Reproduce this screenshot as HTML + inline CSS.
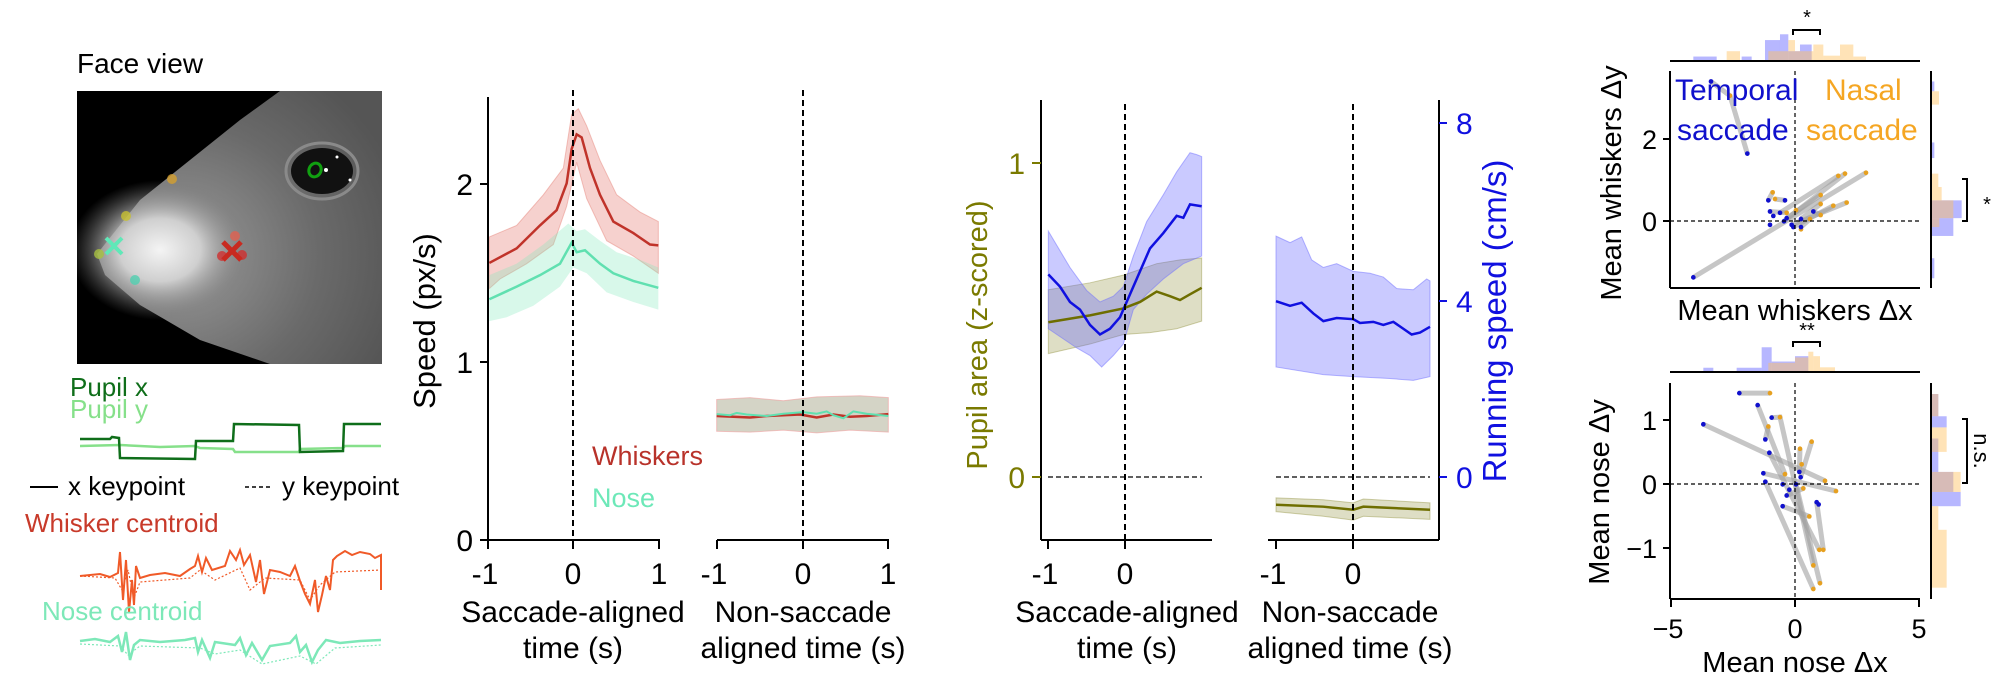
<!DOCTYPE html>
<html><head><meta charset="utf-8"><style>
html,body{margin:0;padding:0;background:#fff;}
svg{display:block;font-family:"Liberation Sans",Arial,sans-serif;}
</style></head><body>
<svg width="2000" height="698" viewBox="0 0 2000 698" xmlns="http://www.w3.org/2000/svg">
<defs>
<radialGradient id="snout" cx="0.5" cy="0.5" r="0.5">
<stop offset="0" stop-color="#f4f4f4"/><stop offset="0.45" stop-color="#cfcfcf"/><stop offset="1" stop-color="#777" stop-opacity="0"/>
</radialGradient>
<radialGradient id="head" cx="0.3" cy="0.6" r="0.8">
<stop offset="0" stop-color="#9a9a9a"/><stop offset="0.6" stop-color="#6a6a6a"/><stop offset="1" stop-color="#555"/>
</radialGradient>
<clipPath id="imgclip"><rect x="77" y="91" width="305" height="273"/></clipPath>
</defs>

<!-- ================= LEFT PANEL ================= -->
<text x="77" y="73" font-size="28">Face view</text>
<g clip-path="url(#imgclip)">
<rect x="77" y="91" width="305" height="273" fill="#000"/>
<polygon points="97,254 140,200 190,160 240,120 280,91 382,91 382,364 270,364 200,340 140,305 105,275" fill="url(#head)"/>
<ellipse cx="160" cy="250" rx="90" ry="70" fill="url(#snout)"/>
<ellipse cx="322" cy="171" rx="31" ry="23" fill="#111"/>
<ellipse cx="322" cy="171" rx="36" ry="28" fill="none" stroke="#8a8a8a" stroke-width="3"/>
<ellipse cx="315" cy="170" rx="6" ry="7" fill="none" stroke="#11a011" stroke-width="3" transform="rotate(25 315 170)"/>
<circle cx="326" cy="170" r="2" fill="#fff"/><circle cx="337" cy="157" r="1.5" fill="#fff"/><circle cx="350" cy="180" r="1.5" fill="#fff"/>
<circle cx="172" cy="179" r="5" fill="#d4a030" opacity="0.8"/>
<circle cx="126" cy="216" r="5" fill="#c8c030" opacity="0.8"/>
<circle cx="99" cy="254" r="5" fill="#a8c040" opacity="0.8"/>
<circle cx="135" cy="280" r="5" fill="#50d0b0" opacity="0.8"/>
<circle cx="235" cy="236" r="5" fill="#e06050" opacity="0.8"/>
<circle cx="222" cy="256" r="5" fill="#d03030" opacity="0.8"/>
<circle cx="242" cy="255" r="5" fill="#d03030" opacity="0.8"/>
<path d="M106,238 L122,254 M122,238 L106,254" stroke="#60e8b8" stroke-width="4"/>
<path d="M223,242 L241,260 M241,242 L223,260" stroke="#c82a20" stroke-width="5"/>
</g>
<text x="70" y="396" font-size="26" fill="#0f6e1a">Pupil x</text>
<text x="70" y="418" font-size="26" fill="#86e08a">Pupil y</text>
<path d="M80,446 L120,445 L160,447 L195,446 L200,448 L233,449 L235,452 L299,452 L300,449 L343,448 L345,446 L381,446" fill="none" stroke="#86e08a" stroke-width="2.5"/>
<path d="M80,439 L110,439 L112,437 L119,438 L120,458 L195,459 L196,441 L233,441 L234,424 L299,425 L300,452 L343,451 L344,424 L381,424" fill="none" stroke="#0f6e1a" stroke-width="2.5"/>
<line x1="30" y1="487" x2="58" y2="487" stroke="#000" stroke-width="2"/>
<text x="68" y="495" font-size="26">x keypoint</text>
<line x1="245" y1="487" x2="273" y2="487" stroke="#000" stroke-width="1.5" stroke-dasharray="4,3"/>
<text x="282" y="495" font-size="26">y keypoint</text>
<text x="25" y="532" font-size="26" fill="#c83a2a">Whisker centroid</text>
<path d="M80,576 L100,574 L110,577 L118,573 L120,552 L123,600 L126,560 L129,612 L132,580 L134,605 L136,566 L140,578 L150,575 L165,573 L180,576 L190,569 L195,566 L198,556 L202,572 L206,558 L212,570 L225,566 L230,551 L236,560 L240,550 L244,565 L250,555 L256,582 L260,560 L264,594 L270,570 L280,572 L290,576 L295,566 L300,581 L305,594 L310,604 L315,580 L318,612 L322,595 L326,576 L330,590 L333,560 L337,556 L345,551 L352,555 L360,552 L370,554 L375,558 L381,555 L381,590" fill="none" stroke="#f05a28" stroke-width="2"/>
<path d="M80,576 L115,578 L122,590 L128,570 L134,598 L140,582 L190,578 L200,570 L215,580 L240,568 L250,590 L265,578 L300,580 L310,600 L320,585 L335,572 L381,570" fill="none" stroke="#f05a28" stroke-width="1.2" stroke-dasharray="2,2"/>
<text x="42" y="620" font-size="26" fill="#7de8b8">Nose centroid</text>
<path d="M80,641 L95,639 L110,642 L118,636 L122,652 L126,632 L130,660 L134,645 L140,640 L160,642 L185,640 L195,638 L198,652 L202,640 L210,658 L215,642 L235,645 L240,638 L246,655 L252,643 L262,660 L270,646 L290,643 L296,636 L300,652 L306,645 L312,662 L318,650 L326,640 L340,643 L360,641 L381,640" fill="none" stroke="#7de8b8" stroke-width="2.5"/>
<path d="M80,644 L120,646 L128,655 L140,646 L200,648 L215,654 L240,650 L262,664 L300,656 L316,664 L335,648 L381,645" fill="none" stroke="#7de8b8" stroke-width="1.2" stroke-dasharray="2,2"/>

<!-- ================= SPEED PANEL ================= -->
<g transform="translate(400,80) scale(0.33333,0.38268)">
<path d="M268,410 L350,380 L430,300 L490,230 L515,90 L535,75 L560,120 L600,210 L650,300 L720,345 L775,370 L775,505 L700,460 L620,420 L560,310 L530,215 L500,330 L460,430 L380,480 L300,520 L268,545 Z" fill="#e05a50" fill-opacity="0.28" stroke="#e88a80" stroke-opacity="0.5" vector-effect="non-scaling-stroke"/>
<path d="M268,510 L350,480 L430,430 L505,375 L530,395 L555,390 L600,420 L650,450 L720,470 L775,490 L775,600 L700,580 L620,555 L560,505 L520,490 L480,540 L400,590 L320,620 L268,630 Z" fill="#7de8b8" fill-opacity="0.3" vector-effect="non-scaling-stroke"/>
<path d="M268,478 L350,440 L420,380 L470,340 L500,270 L515,180 L530,142 L545,150 L570,230 L600,300 L640,370 L700,400 L750,430 L775,432" fill="none" stroke="#c0332a" stroke-width="2.5" vector-effect="non-scaling-stroke"/>
<path d="M268,573 L350,540 L420,510 L480,480 L515,425 L530,450 L555,445 L600,480 L640,505 L700,525 L775,543" fill="none" stroke="#60e0b0" stroke-width="2.5" vector-effect="non-scaling-stroke"/>
<path d="M950,835 L1050,830 L1150,838 L1250,828 L1380,825 L1465,830 L1465,920 L1350,915 L1250,922 L1150,915 L1050,920 L950,918 Z" fill="#a0a080" fill-opacity="0.45" stroke="#f0a0a0" stroke-opacity="0.6" vector-effect="non-scaling-stroke"/>
<path d="M950,878 L1000,880 L1050,882 L1100,878 L1150,876 L1200,874 L1250,882 L1300,874 L1350,880 L1400,878 L1465,873" fill="none" stroke="#c0332a" stroke-width="2.5" vector-effect="non-scaling-stroke"/>
<path d="M950,873 L990,876 L1010,870 L1040,874 L1100,878 L1150,872 L1210,868 L1250,872 L1280,866 L1300,876 L1330,884 L1360,866 L1400,872 L1465,878" fill="none" stroke="#60e0b0" stroke-width="2" vector-effect="non-scaling-stroke"/>
</g>
<g stroke="#000" stroke-width="2" fill="none">
<line x1="488" y1="97" x2="488" y2="540"/>
<line x1="488" y1="540" x2="660" y2="540"/>
<line x1="717" y1="540" x2="889" y2="540"/>
<path d="M480,184 H488 M480,362 H488 M480,540 H488 M488,540 V549 M573,540 V549 M659,540 V549 M717,540 V549 M803,540 V549 M888,540 V549"/>
</g>
<line x1="573" y1="90" x2="573" y2="540" stroke="#000" stroke-width="2" stroke-dasharray="6,4"/>
<line x1="803" y1="90" x2="803" y2="540" stroke="#000" stroke-width="2" stroke-dasharray="6,4"/>
<g font-size="30" text-anchor="end"><text x="473" y="195">2</text><text x="473" y="373">1</text><text x="473" y="551">0</text></g>
<g font-size="30" text-anchor="middle">
<text x="485" y="584">-1</text><text x="573" y="584">0</text><text x="659" y="584">1</text>
<text x="714" y="584">-1</text><text x="803" y="584">0</text><text x="888" y="584">1</text>
<text x="573" y="622">Saccade-aligned</text><text x="573" y="658">time (s)</text>
<text x="803" y="622">Non-saccade</text><text x="803" y="658">aligned time (s)</text>
</g>
<text transform="translate(435,321) rotate(-90)" font-size="31" text-anchor="middle">Speed (px/s)</text>
<text x="592" y="465" font-size="27" fill="#b8322a">Whiskers</text>
<text x="592" y="507" font-size="27" fill="#6de8b8">Nose</text>

<!-- ================= PUPIL / RUNNING PANEL ================= -->
<g transform="translate(990,80) scale(0.33333,0.38268)">
<path d="M175,548 L300,530 L400,510 L500,480 L570,470 L635,465 L635,630 L560,650 L480,660 L400,665 L300,690 L175,715 Z" fill="#8a8a30" fill-opacity="0.28" stroke="#8a8a30" stroke-opacity="0.4" vector-effect="non-scaling-stroke"/>
<path d="M175,395 L240,490 L290,550 L330,580 L370,565 L400,540 L430,460 L470,370 L520,300 L560,240 L600,190 L620,195 L635,200 L635,460 L580,480 L520,520 L470,560 L430,600 L400,690 L370,720 L335,750 L300,720 L260,700 L175,650 Z" fill="#5a5aff" fill-opacity="0.32" stroke="#7070ff" stroke-opacity="0.5" vector-effect="non-scaling-stroke"/>
<path d="M175,633 L300,615 L400,597 L450,580 L500,553 L540,565 L570,575 L600,560 L635,543" fill="none" stroke="#6e6e00" stroke-width="2.5" vector-effect="non-scaling-stroke"/>
<path d="M175,508 L210,540 L240,580 L270,600 L300,640 L330,665 L360,650 L390,620 L405,590 L440,520 L480,440 L520,400 L560,355 L580,360 L600,325 L635,330" fill="none" stroke="#1010e0" stroke-width="2.5" vector-effect="non-scaling-stroke"/>
<path d="M858,408 L900,425 L935,410 L965,470 L1000,490 L1040,480 L1090,500 L1140,505 L1180,515 L1220,545 L1270,548 L1310,520 L1320,525 L1320,775 L1270,785 L1200,780 L1090,775 L1000,770 L858,750 Z" fill="#5a5aff" fill-opacity="0.32" stroke="#7070ff" stroke-opacity="0.5" vector-effect="non-scaling-stroke"/>
<path d="M858,578 L900,590 L935,582 L970,610 L1000,630 L1040,622 L1090,625 L1110,635 L1150,632 L1180,640 L1210,632 L1240,650 L1265,665 L1290,660 L1320,645" fill="none" stroke="#1010e0" stroke-width="2.5" vector-effect="non-scaling-stroke"/>
<path d="M858,1092 L1000,1097 L1090,1105 L1120,1095 L1320,1105 L1320,1148 L1120,1140 L1090,1150 L1000,1140 L858,1128 Z" fill="#8a8a30" fill-opacity="0.28" stroke="#8a8a30" stroke-opacity="0.4" vector-effect="non-scaling-stroke"/>
<path d="M858,1110 L1000,1115 L1090,1123 L1120,1115 L1320,1123" fill="none" stroke="#6e6e00" stroke-width="2.5" vector-effect="non-scaling-stroke"/>
</g>
<g stroke="#000" stroke-width="2" fill="none">
<line x1="1041" y1="100" x2="1041" y2="540"/>
<line x1="1041" y1="540" x2="1212" y2="540"/>
<line x1="1268" y1="540" x2="1439" y2="540"/>
<line x1="1439" y1="100" x2="1439" y2="540"/>
<path d="M1048,540 V549 M1125,540 V549 M1276,540 V549 M1353,540 V549"/>
</g>
<path d="M1032,163 H1041 M1032,477 H1041" stroke="#7a7a00" stroke-width="2"/>
<path d="M1439,123 H1447 M1439,301 H1447 M1439,477 H1447" stroke="#1010e0" stroke-width="2"/>
<line x1="1125" y1="104" x2="1125" y2="540" stroke="#000" stroke-width="2" stroke-dasharray="6,4"/>
<line x1="1353" y1="104" x2="1353" y2="540" stroke="#000" stroke-width="2" stroke-dasharray="6,4"/>
<line x1="1048" y1="477" x2="1202" y2="477" stroke="#000" stroke-width="1.2" stroke-dasharray="5,3"/>
<line x1="1276" y1="477" x2="1430" y2="477" stroke="#000" stroke-width="1.2" stroke-dasharray="5,3"/>
<g font-size="30" fill="#7a7a00" text-anchor="end"><text x="1025" y="174">1</text><text x="1025" y="488">0</text></g>
<g font-size="30" fill="#1010e0"><text x="1456" y="134">8</text><text x="1456" y="312">4</text><text x="1456" y="488">0</text></g>
<g font-size="30" text-anchor="middle">
<text x="1045" y="584">-1</text><text x="1125" y="584">0</text>
<text x="1273" y="584">-1</text><text x="1353" y="584">0</text>
<text x="1127" y="622">Saccade-aligned</text><text x="1127" y="658">time (s)</text>
<text x="1350" y="622">Non-saccade</text><text x="1350" y="658">aligned time (s)</text>
</g>
<text transform="translate(987,335) rotate(-90)" font-size="29" fill="#7a7a00" text-anchor="middle">Pupil area (z-scored)</text>
<text transform="translate(1506,321) rotate(-90)" font-size="33" fill="#1010e0" text-anchor="middle">Running speed (cm/s)</text>

<!-- ================= SCATTER PANEL ================= -->
<g transform="translate(1580,0) scale(0.33333,0.44521)">
<g fill="#7070ff" fill-opacity="0.5">
<rect x="340" y="127" width="70" height="11"/><rect x="485" y="127" width="30" height="11"/>
<rect x="555" y="90" width="45" height="48"/><rect x="600" y="77" width="25" height="61"/>
<rect x="625" y="115" width="35" height="23"/><rect x="660" y="100" width="35" height="38"/>
</g>
<g fill="#ffc060" fill-opacity="0.45">
<rect x="440" y="115" width="40" height="23"/><rect x="565" y="115" width="60" height="23"/>
<rect x="625" y="90" width="20" height="48"/><rect x="645" y="115" width="55" height="23"/>
<rect x="700" y="100" width="30" height="38"/><rect x="730" y="125" width="50" height="13"/>
<rect x="780" y="100" width="40" height="38"/><rect x="820" y="127" width="38" height="11"/>
</g>
<g fill="#7070ff" fill-opacity="0.5">
<rect x="1053" y="183" width="10" height="22"/><rect x="1053" y="320" width="10" height="35"/>
<rect x="1053" y="450" width="92" height="40"/><rect x="1053" y="490" width="67" height="40"/>
<rect x="1053" y="580" width="10" height="45"/>
</g>
<g fill="#ffc060" fill-opacity="0.45">
<rect x="1053" y="205" width="24" height="30"/><rect x="1053" y="390" width="22" height="30"/>
<rect x="1053" y="420" width="32" height="30"/><rect x="1053" y="450" width="67" height="40"/>
<rect x="1053" y="490" width="25" height="20"/>
</g>
<g stroke="#a0a0a0" stroke-opacity="0.6" stroke-width="5" fill="none">
<path d="M393,183 L450,215 L502,345" vector-effect="non-scaling-stroke"/>
<path d="M340,623 L858,388" vector-effect="non-scaling-stroke"/>
<path d="M600,478 L775,395" vector-effect="non-scaling-stroke"/>
<path d="M612,497 L795,390" vector-effect="non-scaling-stroke"/>
<path d="M620,490 L722,438" vector-effect="non-scaling-stroke"/>
<path d="M635,505 L800,455" vector-effect="non-scaling-stroke"/>
<path d="M640,510 L760,462" vector-effect="non-scaling-stroke"/>
<path d="M663,492 L722,458" vector-effect="non-scaling-stroke"/>
<path d="M565,450 L578,432 M615,450 L585,447 M570,475 L620,478 M700,475 L722,483 M663,510 L690,492" vector-effect="non-scaling-stroke"/>
</g>
<g fill="#e6a020">
<ellipse cx="450" cy="215" rx="7" ry="5.3"/><ellipse cx="578" cy="432" rx="7" ry="5.3"/><ellipse cx="585" cy="447" rx="7" ry="5.3"/>
<ellipse cx="620" cy="478" rx="7" ry="5.3"/><ellipse cx="648" cy="472" rx="7" ry="5.3"/><ellipse cx="722" cy="438" rx="7" ry="5.3"/>
<ellipse cx="722" cy="458" rx="7" ry="5.3"/><ellipse cx="760" cy="462" rx="7" ry="5.3"/><ellipse cx="800" cy="455" rx="7" ry="5.3"/>
<ellipse cx="775" cy="395" rx="7" ry="5.3"/><ellipse cx="795" cy="390" rx="7" ry="5.3"/><ellipse cx="858" cy="388" rx="7" ry="5.3"/>
<ellipse cx="690" cy="492" rx="7" ry="5.3"/><ellipse cx="722" cy="483" rx="7" ry="5.3"/><ellipse cx="663" cy="515" rx="7" ry="5.3"/>
</g>
<g fill="#1010cc">
<ellipse cx="393" cy="183" rx="7" ry="5.3"/><ellipse cx="502" cy="345" rx="7" ry="5.3"/><ellipse cx="340" cy="623" rx="7" ry="5.3"/>
<ellipse cx="565" cy="450" rx="7" ry="5.3"/><ellipse cx="615" cy="450" rx="7" ry="5.3"/><ellipse cx="570" cy="475" rx="7" ry="5.3"/>
<ellipse cx="580" cy="485" rx="7" ry="5.3"/><ellipse cx="600" cy="478" rx="7" ry="5.3"/><ellipse cx="620" cy="490" rx="7" ry="5.3"/>
<ellipse cx="612" cy="497" rx="7" ry="5.3"/><ellipse cx="570" cy="505" rx="7" ry="5.3"/><ellipse cx="635" cy="505" rx="7" ry="5.3"/>
<ellipse cx="640" cy="510" rx="7" ry="5.3"/><ellipse cx="663" cy="492" rx="7" ry="5.3"/><ellipse cx="663" cy="510" rx="7" ry="5.3"/>
<ellipse cx="700" cy="475" rx="7" ry="5.3"/>
</g>
<g fill="#7070ff" fill-opacity="0.5">
<rect x="370" y="826" width="30" height="10"/><rect x="470" y="826" width="75" height="10"/>
<rect x="545" y="780" width="30" height="56"/><rect x="575" y="812" width="70" height="24"/>
<rect x="645" y="800" width="40" height="36"/>
</g>
<g fill="#ffc060" fill-opacity="0.45">
<rect x="565" y="815" width="80" height="21"/><rect x="645" y="803" width="40" height="33"/>
<rect x="685" y="790" width="15" height="46"/><rect x="700" y="800" width="20" height="36"/>
<rect x="720" y="825" width="45" height="11"/>
</g>
<g fill="#7070ff" fill-opacity="0.5">
<rect x="1053" y="885" width="22" height="50"/><rect x="1053" y="935" width="47" height="25"/>
<rect x="1053" y="985" width="22" height="75"/><rect x="1053" y="1060" width="67" height="45"/>
<rect x="1053" y="1105" width="89" height="32"/>
</g>
<g fill="#ffc060" fill-opacity="0.45">
<rect x="1053" y="885" width="22" height="50"/><rect x="1053" y="960" width="47" height="55"/>
<rect x="1053" y="1060" width="89" height="45"/><rect x="1053" y="1137" width="22" height="53"/>
<rect x="1053" y="1190" width="47" height="130"/>
</g>
<g stroke="#a0a0a0" stroke-opacity="0.6" stroke-width="5" fill="none">
<path d="M478,883 L570,883" vector-effect="non-scaling-stroke"/>
<path d="M533,910 L615,1065" vector-effect="non-scaling-stroke"/>
<path d="M575,938 L600,937 L700,1270" vector-effect="non-scaling-stroke"/>
<path d="M370,953 L735,1080" vector-effect="non-scaling-stroke"/>
<path d="M556,987 L565,958" vector-effect="non-scaling-stroke"/>
<path d="M568,1017 L718,1235" vector-effect="non-scaling-stroke"/>
<path d="M550,1063 L768,1103" vector-effect="non-scaling-stroke"/>
<path d="M556,1082 L700,1323" vector-effect="non-scaling-stroke"/>
<path d="M608,1137 L688,1160" vector-effect="non-scaling-stroke"/>
<path d="M658,1060 L660,1008" vector-effect="non-scaling-stroke"/>
<path d="M662,1072 L695,992" vector-effect="non-scaling-stroke"/>
<path d="M648,1088 L720,1310" vector-effect="non-scaling-stroke"/>
<path d="M710,1128 L730,1235" vector-effect="non-scaling-stroke"/>
<path d="M620,1113 L670,1097" vector-effect="non-scaling-stroke"/>
</g>
<g fill="#e6a020">
<ellipse cx="570" cy="883" rx="7" ry="5.3"/><ellipse cx="600" cy="937" rx="7" ry="5.3"/><ellipse cx="565" cy="958" rx="7" ry="5.3"/>
<ellipse cx="695" cy="992" rx="7" ry="5.3"/><ellipse cx="660" cy="1008" rx="7" ry="5.3"/><ellipse cx="665" cy="1043" rx="7" ry="5.3"/>
<ellipse cx="615" cy="1065" rx="7" ry="5.3"/><ellipse cx="735" cy="1080" rx="7" ry="5.3"/><ellipse cx="768" cy="1103" rx="7" ry="5.3"/>
<ellipse cx="670" cy="1097" rx="7" ry="5.3"/><ellipse cx="688" cy="1160" rx="7" ry="5.3"/><ellipse cx="718" cy="1235" rx="7" ry="5.3"/>
<ellipse cx="730" cy="1235" rx="7" ry="5.3"/><ellipse cx="700" cy="1270" rx="7" ry="5.3"/><ellipse cx="720" cy="1310" rx="7" ry="5.3"/>
<ellipse cx="700" cy="1323" rx="7" ry="5.3"/>
</g>
<g fill="#1010cc">
<ellipse cx="478" cy="883" rx="7" ry="5.3"/><ellipse cx="533" cy="910" rx="7" ry="5.3"/><ellipse cx="575" cy="938" rx="7" ry="5.3"/>
<ellipse cx="370" cy="953" rx="7" ry="5.3"/><ellipse cx="556" cy="987" rx="7" ry="5.3"/><ellipse cx="568" cy="1017" rx="7" ry="5.3"/>
<ellipse cx="550" cy="1063" rx="7" ry="5.3"/><ellipse cx="556" cy="1082" rx="7" ry="5.3"/><ellipse cx="608" cy="1088" rx="7" ry="5.3"/>
<ellipse cx="628" cy="1100" rx="7" ry="5.3"/><ellipse cx="620" cy="1113" rx="7" ry="5.3"/><ellipse cx="608" cy="1137" rx="7" ry="5.3"/>
<ellipse cx="648" cy="1088" rx="7" ry="5.3"/><ellipse cx="658" cy="1060" rx="7" ry="5.3"/><ellipse cx="662" cy="1072" rx="7" ry="5.3"/>
<ellipse cx="710" cy="1128" rx="7" ry="5.3"/><ellipse cx="716" cy="1133" rx="7" ry="5.3"/>
</g>
</g>
<g stroke="#000" stroke-width="2" fill="none">
<line x1="1670" y1="61" x2="1920" y2="61"/>
<line x1="1670" y1="71" x2="1670" y2="288"/>
<line x1="1670" y1="288" x2="1920" y2="288"/>
<line x1="1931" y1="71" x2="1931" y2="288"/>
<path d="M1663,139 H1670 M1663,221 H1670"/>
<line x1="1670" y1="372" x2="1920" y2="372"/>
<line x1="1670" y1="383" x2="1670" y2="599"/>
<line x1="1670" y1="599" x2="1920" y2="599"/>
<line x1="1931" y1="383" x2="1931" y2="599"/>
<path d="M1663,420 H1670 M1663,484 H1670 M1663,548 H1670 M1671,599 V607 M1795,599 V607 M1919,599 V607"/>
<path d="M1793,35 V30 H1820 V35"/>
<path d="M1962,179 H1967 V221 H1962"/>
<path d="M1793,347 V342 H1820 V347"/>
<path d="M1962,419 H1967 V483 H1962"/>
</g>
<g stroke="#000" stroke-width="1.2" stroke-dasharray="4,3">
<line x1="1795" y1="71" x2="1795" y2="288"/><line x1="1670" y1="221" x2="1920" y2="221"/>
<line x1="1795" y1="383" x2="1795" y2="599"/><line x1="1670" y1="484" x2="1920" y2="484"/>
</g>
<g font-size="27" text-anchor="end"><text x="1657" y="149">2</text><text x="1657" y="231">0</text>
<text x="1657" y="430">1</text><text x="1657" y="494">0</text><text x="1657" y="558">−1</text></g>
<g font-size="27" text-anchor="middle"><text x="1668" y="638">−5</text><text x="1795" y="638">0</text><text x="1919" y="638">5</text></g>
<text x="1795" y="320" font-size="29" text-anchor="middle">Mean whiskers Δx</text>
<text x="1795" y="672" font-size="29" text-anchor="middle">Mean nose Δx</text>
<text transform="translate(1621,183) rotate(-90)" font-size="29" text-anchor="middle">Mean whiskers Δy</text>
<text transform="translate(1609,492) rotate(-90)" font-size="29" text-anchor="middle">Mean nose Δy</text>
<text x="1675" y="100" font-size="30" fill="#1010cc">Temporal</text>
<text x="1677" y="140" font-size="30" fill="#1010cc">saccade</text>
<text x="1825" y="100" font-size="30" fill="#f5a623">Nasal</text>
<text x="1806" y="140" font-size="30" fill="#f5a623">saccade</text>
<text x="1807" y="24" font-size="20" text-anchor="middle">*</text>
<text x="1987" y="211" font-size="20" text-anchor="middle">*</text>
<text x="1807" y="337" font-size="20" text-anchor="middle">**</text>
<text transform="translate(1974,451) rotate(90)" font-size="22" text-anchor="middle">n.s.</text>
</svg>
</body></html>
